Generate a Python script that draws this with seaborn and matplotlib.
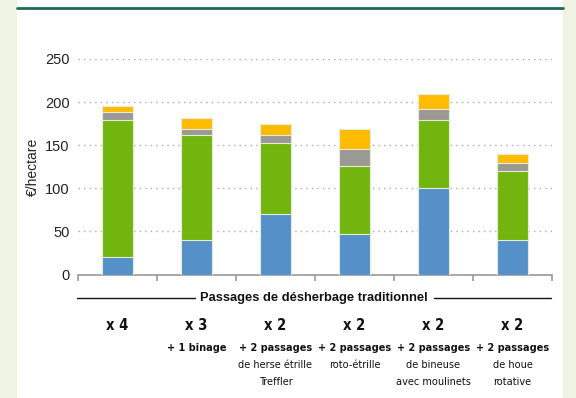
import numpy as np
import pandas as pd
import matplotlib
matplotlib.use("Agg")
import matplotlib.pyplot as plt
import matplotlib.transforms as mtransforms
from matplotlib import font_manager as fm
import seaborn as sns

# data (€/hectare)
groups = ["x 4", "x 3", "x 2", "x 2", "x 2", "x 2"]
details = [
    [],
    ["+ 1 binage"],
    ["+ 2 passages", "de herse étrille", "Treffler"],
    ["+ 2 passages", "roto-étrille"],
    ["+ 2 passages", "de bineuse", "avec moulinets"],
    ["+ 2 passages", "de houe", "rotative"],
]
blue = [20, 40, 70, 47, 100, 40]
green = [159, 122, 82, 79, 79, 80]
grey = [9, 7, 10, 20, 13, 9]
yellow = [7, 13, 13, 23, 17, 11]

layers = [blue, green, grey, yellow]
colors = ["#5590c9", "#72b50e", "#9b9994", "#ffbb00"]

sns.set_theme(style="white")
plt.rcParams["font.family"] = ["Liberation Sans", "DejaVu Sans"]


# look for a narrow / condensed face for the category labels
def find_narrow(bold):
    found = None
    for f in fm.fontManager.ttflist:
        is_narrow = ("Narrow" in f.name or "Condensed" in f.name
                     or f.stretch in ("condensed", "semi-condensed",
                                      "extra-condensed", "ultra-condensed")
                     or "Condensed" in f.fname or "Narrow" in f.fname)
        if not is_narrow:
            continue
        w = f.weight if isinstance(f.weight, int) else (700 if "bold" in str(f.weight) else 400)
        if (w >= 600) != bold or f.style != "normal":
            continue
        if found is None or "Liberation" in f.name:
            found = f.fname
    if found:
        return fm.FontProperties(fname=found)
    return fm.FontProperties(family="DejaVu Sans",
                             weight="bold" if bold else "normal")


nb = find_narrow(True)
nr = find_narrow(False)

fig = plt.figure(figsize=(5.76, 3.98), dpi=100)
fig.patch.set_facecolor("#eff3e2")
# white card
fig.add_artist(plt.Rectangle((17 / 576, 0), (563 - 17) / 576, 1,
                             transform=fig.transFigure, facecolor="white",
                             edgecolor="none", zorder=0))
fig.add_artist(plt.Line2D([17 / 576, 563 / 576], [1 - 7.5 / 398] * 2,
                          transform=fig.transFigure, color="#1d6b52", lw=2))

ax = fig.add_axes([78 / 576, 1 - 274.5 / 398, (552 - 78) / 576, (274.5 - 59) / 398])
ax.set_facecolor("white")

cats = [f"c{i}" for i in range(len(groups))]
cum = np.cumsum(np.array(layers), axis=0)
# draw cumulative totals from the top down so each layer shows as a segment
for vals, col in zip(cum[::-1], colors[::-1]):
    df = pd.DataFrame({"cat": cats, "val": vals})
    sns.barplot(data=df, x="cat", y="val", color=col, width=0.39,
                edgecolor="#e6ecd8", linewidth=0.8, saturation=1, ax=ax,
                zorder=3)

ax.set_xlim(-0.5, 5.5)
ax.set_ylim(0, 250)
ax.set_yticks([0, 50, 100, 150, 200, 250])
ax.yaxis.grid(True, linestyle=(0, (1, 3)), color="#aaaaaa", lw=1)
ax.set_axisbelow(True)
for s in ["top", "right", "left"]:
    ax.spines[s].set_visible(False)
ax.spines["bottom"].set_color("#999999")
ax.spines["bottom"].set_linewidth(1.2)
ax.set_xticks(np.arange(-0.5, 6, 1))
ax.set_xticklabels([])
ax.tick_params(axis="x", bottom=True, direction="out", length=4,
               color="#999999", width=1.2)
ax.tick_params(axis="y", length=0, labelsize=10.5, colors="#222222", pad=6)
ax.set_xlabel("")
ax.set_ylabel("€/hectare", fontsize=10, color="#222222", labelpad=4)

# category labels under the axis
trans = mtransforms.blended_transform_factory(ax.transData, fig.transFigure)
for i, (g, det) in enumerate(zip(groups, details)):
    ax.text(i, 1 - 326 / 398, g, transform=trans, ha="center", va="center",
            fontproperties=nb, fontsize=10.5, color="#111111")
    for j, line in enumerate(det):
        ax.text(i, 1 - (348 + 17 * j) / 398, line, transform=trans,
                ha="center", va="center", fontproperties=nb if j == 0 else nr,
                fontsize=7.8, color="#111111")

fig.text(314 / 576, 1 - 298 / 398, "Passages de désherbage traditionnel",
         ha="center", va="center", fontsize=9.3, fontweight="bold",
         color="#111111")
fig.add_artist(plt.Line2D([77 / 576, 195 / 576], [1 - 298 / 398] * 2,
                          transform=fig.transFigure, color="#111111", lw=1))
fig.add_artist(plt.Line2D([434 / 576, 551 / 576], [1 - 298 / 398] * 2,
                          transform=fig.transFigure, color="#111111", lw=1))

fig.savefig("out.png", dpi=100, facecolor=fig.get_facecolor())
